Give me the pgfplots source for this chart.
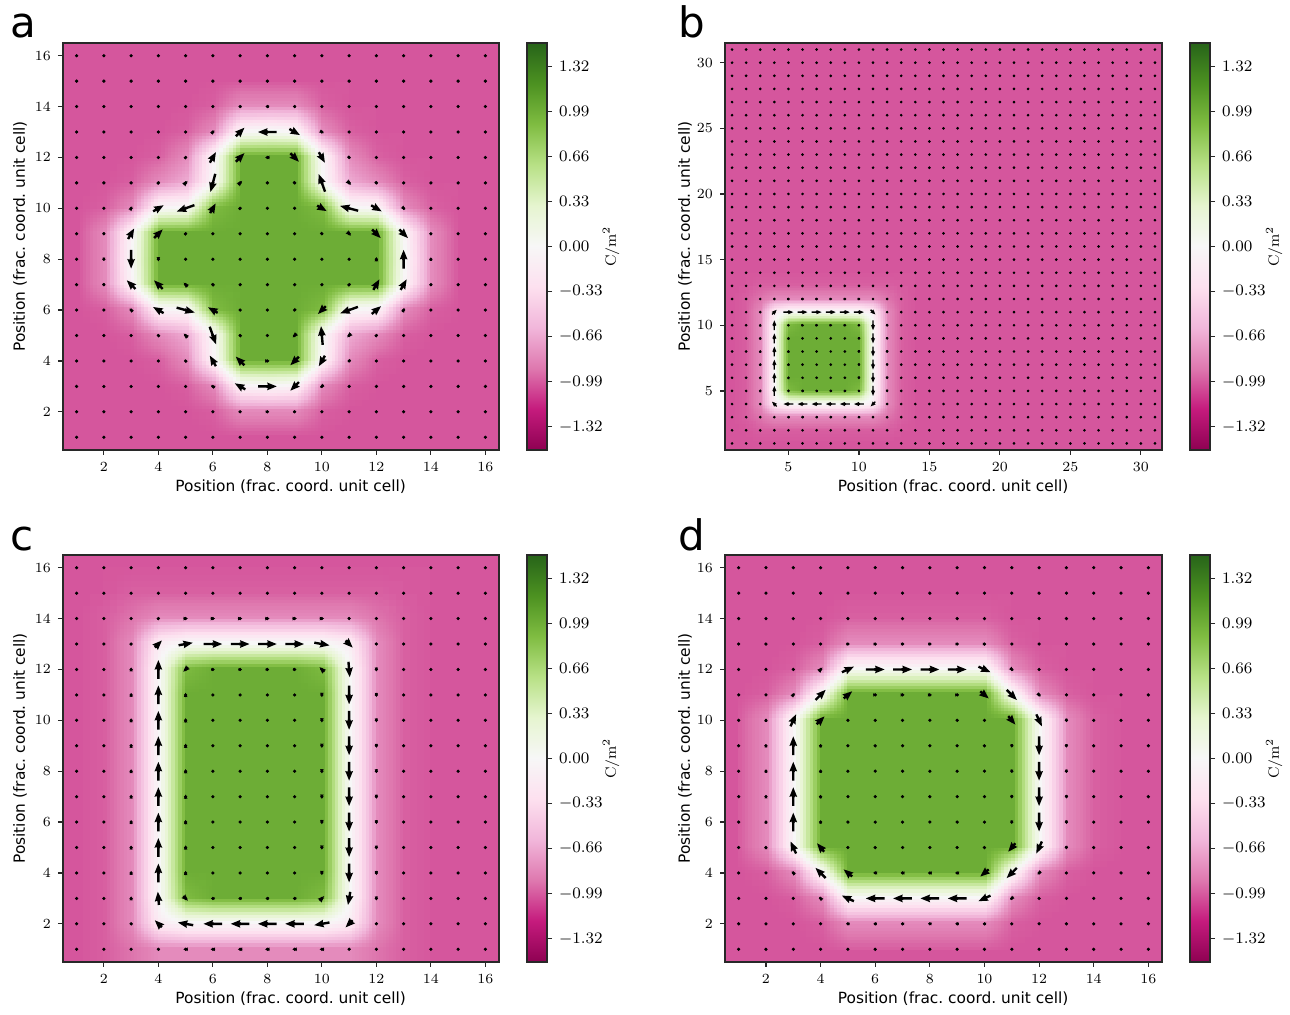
\documentclass[border=0pt]{standalone}
\usepackage{pgfplots}
\usepackage{pgfplotstable}
\pgfplotsset{compat=1.18}
\usepgfplotslibrary{patchplots}
\usepackage{fontspec}
\newfontfamily\djv{DejaVu Sans}
\definecolor{bgpink}{RGB}{213,86,157}
\definecolor{frm}{RGB}{40,40,40}
\pgfplotsset{colormap={piyg}{rgb255=(142,1,82) rgb255=(197,27,125) rgb255=(222,119,174) rgb255=(241,182,218) rgb255=(253,224,239) rgb255=(247,247,247) rgb255=(230,245,208) rgb255=(184,225,134) rgb255=(127,188,65) rgb255=(77,146,33) rgb255=(39,100,25)}}
\newcommand\qarrow[1]{%
  \pgftransformrotate{\qang}%
  \pgfmathsetmacro\qL{1.1*\qlen}%
  \pgfmathsetmacro\qH{3.2*#1}%
  \pgfmathsetmacro\qs{min(1,\qL/\qH)}%
  \pgfmathsetmacro\qLe{max(\qL,\qH)}%
  \pgfmathsetmacro\qa{-0.5*\qLe}%
  \pgfmathsetmacro\qb{0.5*\qLe-2.9*#1}%
  \pgfmathsetmacro\qc{0.5*\qLe-3.2*#1}%
  \pgfmathsetmacro\qd{0.5*\qLe}%
  \pgfmathsetmacro\qe{0.4*#1}%
  \pgfmathsetmacro\qf{1.3*#1}%
  \pgftransformscale{\qs}%
  \pgfpathmoveto{\pgfqpoint{\qa pt}{-\qe pt}}%
  \pgfpathlineto{\pgfqpoint{\qb pt}{-\qe pt}}%
  \pgfpathlineto{\pgfqpoint{\qc pt}{-\qf pt}}%
  \pgfpathlineto{\pgfqpoint{\qd pt}{0pt}}%
  \pgfpathlineto{\pgfqpoint{\qc pt}{\qf pt}}%
  \pgfpathlineto{\pgfqpoint{\qb pt}{\qe pt}}%
  \pgfpathlineto{\pgfqpoint{\qa pt}{\qe pt}}%
  \pgfpathclose
  \pgfusepath{fill}}
\pgfdeclareplotmark{qarr}{\qarrow{1.5}}
\pgfdeclareplotmark{qarrb}{\qarrow{0.8}}
\pgfplotsset{
  panel/.style={anchor=south west, scale only axis, height=203.5pt, ymin=0.5,
    tick align=outside, xtick pos=left, ytick pos=left, major tick length=2.5pt,
    axis line style={frm, line width=0.7pt}, every tick/.style={frm, line width=0.6pt},
    tick label style={font=\fontsize{7.5}{9}\selectfont},
    label style={font=\djv\fontsize{7.7}{9}\selectfont},
    xlabel={Position (frac.\ coord.\ unit cell)},
    ylabel={Position (frac.\ coord.\ unit cell)},
    xlabel style={at={(axis description cs:0.522,-0.0909)}, anchor=center},
    axis background/.style={fill=bgpink}, axis on top,
    point meta min=-149, point meta max=149, colormap name=piyg},
  sq/.style={panel, width=218pt, xmin=0.5, xmax=16.5, ymax=16.5,
    xtick={2,4,...,16}, ytick={2,4,...,16}},
  cbar/.style={anchor=south west, scale only axis, width=10pt, height=203.5pt,
    xmin=0, xmax=1, ymin=-1.49, ymax=1.49, xtick=\empty,
    ytick={-1.32,-0.99,-0.66,-0.33,0,0.33,0.66,0.99,1.32},
    yticklabels={$-1.32$,$-0.99$,$-0.66$,$-0.33$,$0.00$,$0.33$,$0.66$,$0.99$,$1.32$},
    ytick pos=right, yticklabel pos=right, tick align=outside, major tick length=2.5pt,
    axis line style={frm, line width=0.7pt}, every tick/.style={frm, line width=0.6pt},
    tick label style={font=\fontsize{8}{9}\selectfont},
    ylabel={$\mathrm{C/m^2}$},
    ylabel style={at={(axis description cs:4.2,0.5)}, anchor=center, font=\fontsize{7.5}{9}\selectfont},
    point meta min=-149, point meta max=149, colormap name=piyg, axis on top},
  heat/.style={surf, shader=interp, patch type=bilinear, point meta=explicit, mesh/cols=16},
  quiv/.style={only marks, scatter, mark=#1, black, point meta=explicit,
    visualization depends on={value \thisrow{a} \as \qang},
    visualization depends on={value \thisrow{l} \as \qlen},
    scatter/@pre marker code/.code={\pgfscope},
    scatter/@post marker code/.code={\endpgfscope}},
  gdots/.style={only marks, mark=*, mark size=#1, mark options={draw=none, fill=black}},
}
\pgfplotstableread{
x y a c d b
1 1 -100 -100 -100 -100
2 1 -100 -97 -100 -100
3 1 -100 -90 -100 -100
4 1 -100 -80 -100 -100
5 1 -100 -80 -97 -100
6 1 -100 -80 -97 -100
7 1 -100 -80 -97 -100
8 1 -100 -80 -97 -100
9 1 -100 -80 -97 -100
10 1 -100 -80 -97 -100
11 1 -100 -80 -100 -100
12 1 -100 -90 -100 -100
13 1 -100 -97 -100 -100
14 1 -100 -100 -100 -100
15 1 -100 -100 -100 -100
16 1 -100 -100 -100 -100
1 2 -100 -100 -100 -100
2 2 -100 -97 -100 -99
3 2 -100 -80 -100 -97
4 2 -100 -15 -97 -97
5 2 -100 0 -80 -97
6 2 -97 0 -80 -97
7 2 -80 0 -80 -97
8 2 -80 0 -80 -97
9 2 -80 0 -80 -97
10 2 -97 0 -80 -97
11 2 -100 -15 -97 -97
12 2 -100 -80 -100 -97
13 2 -100 -97 -100 -99
14 2 -100 -100 -100 -100
15 2 -100 -100 -100 -100
16 2 -100 -100 -100 -100
1 3 -100 -100 -100 -100
2 3 -100 -97 -100 -97
3 3 -100 -80 -97 -90
4 3 -100 0 -80 -80
5 3 -97 90 0 -80
6 3 -80 100 0 -80
7 3 -5 100 0 -80
8 3 0 100 0 -80
9 3 -5 100 0 -80
10 3 -80 90 0 -80
11 3 -97 0 -80 -80
12 3 -100 -80 -97 -90
13 3 -100 -97 -100 -97
14 3 -100 -100 -100 -100
15 3 -100 -100 -100 -100
16 3 -100 -100 -100 -100
1 4 -100 -100 -100 -100
2 4 -100 -97 -97 -97
3 4 -100 -80 -80 -80
4 4 -97 0 0 -15
5 4 -80 100 100 0
6 4 -5 100 100 0
7 4 100 100 100 0
8 4 100 100 100 0
9 4 100 100 100 0
10 4 -5 100 100 0
11 4 -80 0 0 -15
12 4 -97 -80 -80 -80
13 4 -100 -97 -97 -97
14 4 -100 -100 -100 -100
15 4 -100 -100 -100 -100
16 4 -100 -100 -100 -100
1 5 -100 -100 -97 -100
2 5 -100 -97 -80 -97
3 5 -97 -80 0 -80
4 5 -80 0 100 0
5 5 -65 100 100 90
6 5 0 100 100 100
7 5 100 100 100 100
8 5 100 100 100 100
9 5 100 100 100 100
10 5 0 100 100 90
11 5 -65 0 100 0
12 5 -80 -80 0 -80
13 5 -97 -97 -80 -97
14 5 -100 -100 -97 -100
15 5 -100 -100 -100 -100
16 5 -100 -100 -100 -100
1 6 -100 -100 -97 -100
2 6 -97 -97 -80 -97
3 6 -80 -80 0 -80
4 6 -5 0 100 0
5 6 0 100 100 100
6 6 90 100 100 100
7 6 100 100 100 100
8 6 100 100 100 100
9 6 100 100 100 100
10 6 90 100 100 100
11 6 0 0 100 0
12 6 -5 -80 0 -80
13 6 -80 -97 -80 -97
14 6 -97 -100 -97 -100
15 6 -100 -100 -100 -100
16 6 -100 -100 -100 -100
1 7 -100 -100 -97 -100
2 7 -80 -97 -80 -97
3 7 -5 -80 0 -80
4 7 100 0 100 0
5 7 100 100 100 100
6 7 100 100 100 100
7 7 100 100 100 100
8 7 100 100 100 100
9 7 100 100 100 100
10 7 100 100 100 100
11 7 100 0 100 0
12 7 100 -80 0 -80
13 7 -5 -97 -80 -97
14 7 -80 -100 -97 -100
15 7 -100 -100 -100 -100
16 7 -100 -100 -100 -100
1 8 -100 -100 -97 -100
2 8 -80 -97 -80 -97
3 8 0 -80 0 -80
4 8 100 0 100 0
5 8 100 100 100 100
6 8 100 100 100 100
7 8 100 100 100 100
8 8 100 100 100 100
9 8 100 100 100 100
10 8 100 100 100 100
11 8 100 0 100 0
12 8 100 -80 0 -80
13 8 0 -97 -80 -97
14 8 -80 -100 -97 -100
15 8 -100 -100 -100 -100
16 8 -100 -100 -100 -100
1 9 -100 -100 -97 -100
2 9 -80 -97 -80 -97
3 9 -5 -80 0 -80
4 9 100 0 100 0
5 9 100 100 100 100
6 9 100 100 100 100
7 9 100 100 100 100
8 9 100 100 100 100
9 9 100 100 100 100
10 9 100 100 100 100
11 9 100 0 100 0
12 9 100 -80 0 -80
13 9 -5 -97 -80 -97
14 9 -80 -100 -97 -100
15 9 -100 -100 -100 -100
16 9 -100 -100 -100 -100
1 10 -100 -100 -97 -100
2 10 -97 -97 -80 -97
3 10 -80 -80 0 -80
4 10 -5 0 100 0
5 10 0 100 100 90
6 10 90 100 100 100
7 10 100 100 100 100
8 10 100 100 100 100
9 10 100 100 100 100
10 10 90 100 100 90
11 10 0 0 100 0
12 10 -5 -80 0 -80
13 10 -80 -97 -80 -97
14 10 -97 -100 -97 -100
15 10 -100 -100 -100 -100
16 10 -100 -100 -100 -100
1 11 -100 -100 -100 -100
2 11 -100 -97 -97 -97
3 11 -97 -80 -80 -80
4 11 -80 0 0 -15
5 11 -65 100 100 0
6 11 0 100 100 0
7 11 100 100 100 0
8 11 100 100 100 0
9 11 100 100 100 0
10 11 0 100 100 0
11 11 -65 0 0 -15
12 11 -80 -80 -80 -80
13 11 -97 -97 -97 -97
14 11 -100 -100 -100 -100
15 11 -100 -100 -100 -100
16 11 -100 -100 -100 -100
1 12 -100 -100 -100 -100
2 12 -100 -97 -100 -97
3 12 -100 -80 -97 -90
4 12 -97 0 -80 -80
5 12 -80 90 0 -80
6 12 -5 100 0 -80
7 12 100 100 0 -80
8 12 100 100 0 -80
9 12 100 100 0 -80
10 12 -5 90 0 -80
11 12 -80 0 -80 -80
12 12 -97 -80 -97 -90
13 12 -100 -97 -100 -97
14 12 -100 -100 -100 -100
15 12 -100 -100 -100 -100
16 12 -100 -100 -100 -100
1 13 -100 -100 -100 -100
2 13 -100 -97 -100 -99
3 13 -100 -80 -100 -97
4 13 -100 -15 -97 -97
5 13 -97 0 -80 -97
6 13 -80 0 -80 -97
7 13 -5 0 -80 -97
8 13 0 0 -80 -97
9 13 -5 0 -80 -97
10 13 -80 0 -80 -97
11 13 -97 -15 -97 -97
12 13 -100 -80 -100 -97
13 13 -100 -97 -100 -99
14 13 -100 -100 -100 -100
15 13 -100 -100 -100 -100
16 13 -100 -100 -100 -100
1 14 -100 -100 -100 -100
2 14 -100 -97 -100 -100
3 14 -100 -90 -100 -100
4 14 -100 -80 -100 -100
5 14 -100 -80 -97 -100
6 14 -97 -80 -97 -100
7 14 -80 -80 -97 -100
8 14 -80 -80 -97 -100
9 14 -80 -80 -97 -100
10 14 -97 -80 -97 -100
11 14 -100 -80 -100 -100
12 14 -100 -90 -100 -100
13 14 -100 -97 -100 -100
14 14 -100 -100 -100 -100
15 14 -100 -100 -100 -100
16 14 -100 -100 -100 -100
1 15 -100 -100 -100 -100
2 15 -100 -99 -100 -100
3 15 -100 -97 -100 -100
4 15 -100 -97 -100 -100
5 15 -100 -97 -100 -100
6 15 -100 -97 -100 -100
7 15 -100 -97 -100 -100
8 15 -100 -97 -100 -100
9 15 -100 -97 -100 -100
10 15 -100 -97 -100 -100
11 15 -100 -97 -100 -100
12 15 -100 -97 -100 -100
13 15 -100 -99 -100 -100
14 15 -100 -100 -100 -100
15 15 -100 -100 -100 -100
16 15 -100 -100 -100 -100
1 16 -100 -100 -100 -100
2 16 -100 -100 -100 -100
3 16 -100 -100 -100 -100
4 16 -100 -100 -100 -100
5 16 -100 -100 -100 -100
6 16 -100 -100 -100 -100
7 16 -100 -100 -100 -100
8 16 -100 -100 -100 -100
9 16 -100 -100 -100 -100
10 16 -100 -100 -100 -100
11 16 -100 -100 -100 -100
12 16 -100 -100 -100 -100
13 16 -100 -100 -100 -100
14 16 -100 -100 -100 -100
15 16 -100 -100 -100 -100
16 16 -100 -100 -100 -100
}\G
\pgfplotstableread{
x y c
1 0.5 -100
2 0.5 -97
3 0.5 -90
4 0.5 -80
5 0.5 -80
6 0.5 -80
7 0.5 -80
8 0.5 -80
9 0.5 -80
10 0.5 -80
11 0.5 -80
12 0.5 -90
13 0.5 -97
14 0.5 -100
15 0.5 -100
16 0.5 -100
1 1 -100
2 1 -97
3 1 -90
4 1 -80
5 1 -80
6 1 -80
7 1 -80
8 1 -80
9 1 -80
10 1 -80
11 1 -80
12 1 -90
13 1 -97
14 1 -100
15 1 -100
16 1 -100
}\CS
\pgfplotstableread{
x y c
0 -1.49 -149
1 -1.49 -149
0 -1.192 -119.2
1 -1.192 -119.2
0 -0.894 -89.4
1 -0.894 -89.4
0 -0.596 -59.6
1 -0.596 -59.6
0 -0.298 -29.8
1 -0.298 -29.8
0 0 0
1 0 0
0 0.298 29.8
1 0.298 29.8
0 0.596 59.6
1 0.596 59.6
0 0.894 89.4
1 0.894 89.4
0 1.192 119.2
1 1.192 119.2
0 1.49 149
1 1.49 149
}\CB
\pgfplotstableread[row sep=\\]{
x y\\
17 1\\18 1\\19 1\\20 1\\21 1\\22 1\\23 1\\24 1\\25 1\\26 1\\27 1\\28 1\\29 1\\30 1\\31 1\\
17 2\\18 2\\19 2\\20 2\\21 2\\22 2\\23 2\\24 2\\25 2\\26 2\\27 2\\28 2\\29 2\\30 2\\31 2\\
17 3\\18 3\\19 3\\20 3\\21 3\\22 3\\23 3\\24 3\\25 3\\26 3\\27 3\\28 3\\29 3\\30 3\\31 3\\
17 4\\18 4\\19 4\\20 4\\21 4\\22 4\\23 4\\24 4\\25 4\\26 4\\27 4\\28 4\\29 4\\30 4\\31 4\\
17 5\\18 5\\19 5\\20 5\\21 5\\22 5\\23 5\\24 5\\25 5\\26 5\\27 5\\28 5\\29 5\\30 5\\31 5\\
17 6\\18 6\\19 6\\20 6\\21 6\\22 6\\23 6\\24 6\\25 6\\26 6\\27 6\\28 6\\29 6\\30 6\\31 6\\
17 7\\18 7\\19 7\\20 7\\21 7\\22 7\\23 7\\24 7\\25 7\\26 7\\27 7\\28 7\\29 7\\30 7\\31 7\\
17 8\\18 8\\19 8\\20 8\\21 8\\22 8\\23 8\\24 8\\25 8\\26 8\\27 8\\28 8\\29 8\\30 8\\31 8\\
17 9\\18 9\\19 9\\20 9\\21 9\\22 9\\23 9\\24 9\\25 9\\26 9\\27 9\\28 9\\29 9\\30 9\\31 9\\
17 10\\18 10\\19 10\\20 10\\21 10\\22 10\\23 10\\24 10\\25 10\\26 10\\27 10\\28 10\\29 10\\30 10\\31 10\\
17 11\\18 11\\19 11\\20 11\\21 11\\22 11\\23 11\\24 11\\25 11\\26 11\\27 11\\28 11\\29 11\\30 11\\31 11\\
17 12\\18 12\\19 12\\20 12\\21 12\\22 12\\23 12\\24 12\\25 12\\26 12\\27 12\\28 12\\29 12\\30 12\\31 12\\
17 13\\18 13\\19 13\\20 13\\21 13\\22 13\\23 13\\24 13\\25 13\\26 13\\27 13\\28 13\\29 13\\30 13\\31 13\\
17 14\\18 14\\19 14\\20 14\\21 14\\22 14\\23 14\\24 14\\25 14\\26 14\\27 14\\28 14\\29 14\\30 14\\31 14\\
17 15\\18 15\\19 15\\20 15\\21 15\\22 15\\23 15\\24 15\\25 15\\26 15\\27 15\\28 15\\29 15\\30 15\\31 15\\
17 16\\18 16\\19 16\\20 16\\21 16\\22 16\\23 16\\24 16\\25 16\\26 16\\27 16\\28 16\\29 16\\30 16\\31 16\\
1 17\\2 17\\3 17\\4 17\\5 17\\6 17\\7 17\\8 17\\9 17\\10 17\\11 17\\12 17\\13 17\\14 17\\15 17\\16 17\\17 17\\18 17\\19 17\\20 17\\21 17\\22 17\\23 17\\24 17\\25 17\\26 17\\27 17\\28 17\\29 17\\30 17\\31 17\\
1 18\\2 18\\3 18\\4 18\\5 18\\6 18\\7 18\\8 18\\9 18\\10 18\\11 18\\12 18\\13 18\\14 18\\15 18\\16 18\\17 18\\18 18\\19 18\\20 18\\21 18\\22 18\\23 18\\24 18\\25 18\\26 18\\27 18\\28 18\\29 18\\30 18\\31 18\\
1 19\\2 19\\3 19\\4 19\\5 19\\6 19\\7 19\\8 19\\9 19\\10 19\\11 19\\12 19\\13 19\\14 19\\15 19\\16 19\\17 19\\18 19\\19 19\\20 19\\21 19\\22 19\\23 19\\24 19\\25 19\\26 19\\27 19\\28 19\\29 19\\30 19\\31 19\\
1 20\\2 20\\3 20\\4 20\\5 20\\6 20\\7 20\\8 20\\9 20\\10 20\\11 20\\12 20\\13 20\\14 20\\15 20\\16 20\\17 20\\18 20\\19 20\\20 20\\21 20\\22 20\\23 20\\24 20\\25 20\\26 20\\27 20\\28 20\\29 20\\30 20\\31 20\\
1 21\\2 21\\3 21\\4 21\\5 21\\6 21\\7 21\\8 21\\9 21\\10 21\\11 21\\12 21\\13 21\\14 21\\15 21\\16 21\\17 21\\18 21\\19 21\\20 21\\21 21\\22 21\\23 21\\24 21\\25 21\\26 21\\27 21\\28 21\\29 21\\30 21\\31 21\\
1 22\\2 22\\3 22\\4 22\\5 22\\6 22\\7 22\\8 22\\9 22\\10 22\\11 22\\12 22\\13 22\\14 22\\15 22\\16 22\\17 22\\18 22\\19 22\\20 22\\21 22\\22 22\\23 22\\24 22\\25 22\\26 22\\27 22\\28 22\\29 22\\30 22\\31 22\\
1 23\\2 23\\3 23\\4 23\\5 23\\6 23\\7 23\\8 23\\9 23\\10 23\\11 23\\12 23\\13 23\\14 23\\15 23\\16 23\\17 23\\18 23\\19 23\\20 23\\21 23\\22 23\\23 23\\24 23\\25 23\\26 23\\27 23\\28 23\\29 23\\30 23\\31 23\\
1 24\\2 24\\3 24\\4 24\\5 24\\6 24\\7 24\\8 24\\9 24\\10 24\\11 24\\12 24\\13 24\\14 24\\15 24\\16 24\\17 24\\18 24\\19 24\\20 24\\21 24\\22 24\\23 24\\24 24\\25 24\\26 24\\27 24\\28 24\\29 24\\30 24\\31 24\\
1 25\\2 25\\3 25\\4 25\\5 25\\6 25\\7 25\\8 25\\9 25\\10 25\\11 25\\12 25\\13 25\\14 25\\15 25\\16 25\\17 25\\18 25\\19 25\\20 25\\21 25\\22 25\\23 25\\24 25\\25 25\\26 25\\27 25\\28 25\\29 25\\30 25\\31 25\\
1 26\\2 26\\3 26\\4 26\\5 26\\6 26\\7 26\\8 26\\9 26\\10 26\\11 26\\12 26\\13 26\\14 26\\15 26\\16 26\\17 26\\18 26\\19 26\\20 26\\21 26\\22 26\\23 26\\24 26\\25 26\\26 26\\27 26\\28 26\\29 26\\30 26\\31 26\\
1 27\\2 27\\3 27\\4 27\\5 27\\6 27\\7 27\\8 27\\9 27\\10 27\\11 27\\12 27\\13 27\\14 27\\15 27\\16 27\\17 27\\18 27\\19 27\\20 27\\21 27\\22 27\\23 27\\24 27\\25 27\\26 27\\27 27\\28 27\\29 27\\30 27\\31 27\\
1 28\\2 28\\3 28\\4 28\\5 28\\6 28\\7 28\\8 28\\9 28\\10 28\\11 28\\12 28\\13 28\\14 28\\15 28\\16 28\\17 28\\18 28\\19 28\\20 28\\21 28\\22 28\\23 28\\24 28\\25 28\\26 28\\27 28\\28 28\\29 28\\30 28\\31 28\\
1 29\\2 29\\3 29\\4 29\\5 29\\6 29\\7 29\\8 29\\9 29\\10 29\\11 29\\12 29\\13 29\\14 29\\15 29\\16 29\\17 29\\18 29\\19 29\\20 29\\21 29\\22 29\\23 29\\24 29\\25 29\\26 29\\27 29\\28 29\\29 29\\30 29\\31 29\\
1 30\\2 30\\3 30\\4 30\\5 30\\6 30\\7 30\\8 30\\9 30\\10 30\\11 30\\12 30\\13 30\\14 30\\15 30\\16 30\\17 30\\18 30\\19 30\\20 30\\21 30\\22 30\\23 30\\24 30\\25 30\\26 30\\27 30\\28 30\\29 30\\30 30\\31 30\\
1 31\\2 31\\3 31\\4 31\\5 31\\6 31\\7 31\\8 31\\9 31\\10 31\\11 31\\12 31\\13 31\\14 31\\15 31\\16 31\\17 31\\18 31\\19 31\\20 31\\21 31\\22 31\\23 31\\24 31\\25 31\\26 31\\27 31\\28 31\\29 31\\30 31\\31 31\\
}\BD
\begin{document}
\begin{tikzpicture}
\path[use as bounding box] (0,0) rectangle (645pt,507.5pt);
% panel a
\begin{axis}[sq, at={(31.5pt,282.5pt)}, ylabel style={at={(axis description cs:-0.0986,0.525)}, anchor=center}]
\addplot[heat] table[x=x,y=y,meta=a] {\G};
\addplot[gdots=0.6pt] table[x=x,y=y] {\G};
\addplot[quiv=qarr] table[x=x,y=y,meta=l] {
x y a l
6 13 45 2
7 13 45 5.5
8 13 180 8.5
9 13 -30 5.5
10 13 -30 2
5 12 45 1.5
6 12 60 5.5
7 12 45 5.5
8 12 180 2
9 12 -45 5.5
10 12 -60 5.5
11 12 -45 1.5
5 11 45 2.5
6 11 -105 8.5
7 11 45 2.5
9 11 -45 1.5
10 11 110 8.5
6 10 60 5
7 10 45 1.5
9 10 -45 1
7 14 180 1.2
8 14 180 1.5
9 14 180 1.2
3 6 135 2
3 7 135 5.5
3 8 270 8.5
3 9 60 5.5
3 10 60 2
4 5 135 1.5
4 6 150 5.5
4 7 135 5.5
4 8 270 2
4 9 45 5.5
4 10 30 5.5
4 11 45 1.5
5 5 135 2.5
5 6 -15 8.5
5 7 135 2.5
5 9 45 1.5
5 10 200 8.5
6 6 150 5
6 7 135 1.5
6 9 45 1
2 7 270 1.2
2 8 270 1.5
2 9 270 1.2
10 3 225 2
9 3 225 5.5
8 3 0 8.5
7 3 150 5.5
6 3 150 2
11 4 225 1.5
10 4 240 5.5
9 4 225 5.5
8 4 0 2
7 4 135 5.5
6 4 120 5.5
5 4 135 1.5
11 5 225 2.5
10 5 95 8.5
9 5 225 2.5
7 5 135 1.5
6 5 290 8.5
10 6 225 5
9 6 225 1.5
7 6 135 1
9 2 0 1.2
8 2 0 1.5
7 2 0 1.2
13 10 -45 2
13 9 -45 5.5
13 8 90 8.5
13 7 60 5.5
13 6 60 2
12 11 -45 1.5
12 10 -30 5.5
12 9 -45 5.5
12 8 90 2
12 7 60 5.5
12 6 40 5.5
12 5 45 1.5
11 11 -45 2.5
11 10 165 8.5
11 9 -45 2.5
11 7 45 1.5
11 6 200 8.5
10 10 -30 5
10 9 -45 1.5
10 7 45 1
14 9 90 1.2
14 8 90 1.5
14 7 90 1.2
};
\end{axis}
\begin{axis}[cbar, at={(263.5pt,282.5pt)}]
\addplot[surf, shader=interp, point meta=explicit, mesh/cols=2] table[x=x,y=y,meta=c] {\CB};
\end{axis}
% panel b
\begin{axis}[panel, at={(362.5pt,282.5pt)}, width=218.5pt, xmin=0.5, xmax=31.5, ymax=31.5,
  xtick={5,10,...,30}, ytick={5,10,...,30},
  ylabel style={at={(axis description cs:-0.0915,0.525)}, anchor=center}]
\addplot[heat] table[x=x,y=y,meta=b] {\G};
\addplot[gdots=0.45pt] table[x=x,y=y] {\G};
\addplot[gdots=0.45pt] table[x=x,y=y] {\BD};
\addplot[quiv=qarrb] table[x=x,y=y,meta=l] {
x y a l
4 5 90 4.5
4 6 90 4.5
4 7 90 4.5
4 8 90 4.5
4 9 90 4.5
4 10 90 4.5
4 11 45 3
5 11 0 4.5
6 11 0 4.5
7 11 0 4.5
8 11 0 4.5
9 11 0 4.5
10 11 0 4.5
11 11 -45 3
11 5 -90 4.5
11 6 -90 4.5
11 7 -90 4.5
11 8 -90 4.5
11 9 -90 4.5
11 10 -90 4.5
11 4 225 3
5 4 180 4.5
6 4 180 4.5
7 4 180 4.5
8 4 180 4.5
9 4 180 4.5
10 4 180 4.5
4 4 135 3
5 6 90 1.2
5 7 90 1.2
5 8 90 1.2
5 9 90 1.2
10 6 -90 1.2
10 7 -90 1.2
10 8 -90 1.2
10 9 -90 1.2
6 10 0 1.2
7 10 0 1.2
8 10 0 1.2
9 10 0 1.2
6 5 180 1.2
7 5 180 1.2
8 5 180 1.2
9 5 180 1.2
3 5 90 1.2
3 6 90 1.2
3 7 90 1.2
3 8 90 1.2
3 9 90 1.2
3 10 90 1.2
12 5 -90 1.2
12 6 -90 1.2
12 7 -90 1.2
12 8 -90 1.2
12 9 -90 1.2
12 10 -90 1.2
5 12 0 1.2
6 12 0 1.2
7 12 0 1.2
8 12 0 1.2
9 12 0 1.2
10 12 0 1.2
5 3 180 1.2
6 3 180 1.2
7 3 180 1.2
8 3 180 1.2
9 3 180 1.2
10 3 180 1.2
};
\end{axis}
\begin{axis}[cbar, at={(595pt,282.5pt)}]
\addplot[surf, shader=interp, point meta=explicit, mesh/cols=2] table[x=x,y=y,meta=c] {\CB};
\end{axis}
% panel c
\begin{axis}[sq, at={(31.5pt,26.5pt)}, ylabel style={at={(axis description cs:-0.0986,0.525)}, anchor=center}]
\addplot[heat] table[x=x,y=y,meta=c] {\G};
\addplot[heat] table[x=x,y=y,meta=c] {\CS};
\addplot[gdots=0.6pt] table[x=x,y=y] {\G};
\addplot[quiv=qarr] table[x=x,y=y,meta=l] {
x y a l
4 2 135 4.5
4 3 95 6
4 4 90 8.5
4 5 90 8.5
4 6 90 8.5
4 7 90 8.5
4 8 90 8.5
4 9 90 8.5
4 10 90 8.5
4 11 90 8.5
4 12 90 8.5
4 13 45 4.5
5 13 10 6.5
6 13 0 8.5
7 13 0 8.5
8 13 0 8.5
9 13 0 8.5
10 13 -10 7
11 13 -45 4.5
11 12 -85 7
11 11 -90 8.5
11 10 -90 8.5
11 9 -90 8.5
11 8 -90 8.5
11 7 -90 8.5
11 6 -90 8.5
11 5 -90 8.5
11 4 -90 8.5
11 3 -100 6
11 2 225 4.5
10 2 190 7
9 2 180 8.5
8 2 180 8.5
7 2 180 8.5
6 2 180 8.5
5 2 170 7
5 12 225 3
10 12 135 3
5 3 -45 3
10 3 45 3
5 4 90 2
5 5 90 2
5 6 90 2
5 7 90 2
5 8 90 2
5 9 90 2
5 10 90 2
5 11 90 2
10 4 -90 2
10 5 -90 2
10 6 -90 2
10 7 -90 2
10 8 -90 2
10 9 -90 2
10 10 -90 2
10 11 -90 2
6 12 0 1.5
7 12 0 1.5
8 12 0 1.5
9 12 0 1.5
6 3 180 1.5
7 3 180 1.5
8 3 180 1.5
9 3 180 1.5
3 3 90 1.8
3 4 90 1.8
3 5 90 1.8
3 6 90 1.8
3 7 90 1.8
3 8 90 1.8
3 9 90 1.8
3 10 90 1.8
3 11 90 1.8
3 12 90 1.8
3 13 45 1.2
3 2 135 1.2
12 3 -90 1.8
12 4 -90 1.8
12 5 -90 1.8
12 6 -90 1.8
12 7 -90 1.8
12 8 -90 1.8
12 9 -90 1.8
12 10 -90 1.8
12 11 -90 1.8
12 12 -90 1.8
12 13 -45 1.2
12 2 225 1.2
5 14 0 2
6 14 0 2
7 14 0 2
8 14 0 2
9 14 0 2
10 14 0 2
4 14 45 1.2
11 14 -60 1.2
5 1 180 2
6 1 180 2
7 1 180 2
8 1 180 2
9 1 180 2
10 1 180 2
4 1 150 1.2
11 1 210 1.2
};
\end{axis}
\begin{axis}[cbar, at={(263.5pt,26.5pt)}]
\addplot[surf, shader=interp, point meta=explicit, mesh/cols=2] table[x=x,y=y,meta=c] {\CB};
\end{axis}
% panel d
\begin{axis}[sq, at={(362.5pt,26.5pt)}, width=218.5pt, ylabel style={at={(axis description cs:-0.0915,0.525)}, anchor=center}]
\addplot[heat] table[x=x,y=y,meta=d] {\G};
\addplot[gdots=0.6pt] table[x=x,y=y] {\G};
\addplot[quiv=qarr] table[x=x,y=y,meta=l] {
x y a l
5 12 25 6
6 12 0 8.5
7 12 0 8.5
8 12 0 8.5
9 12 0 8.5
10 12 -25 6
3 10 65 6
3 9 90 8.5
3 8 90 8.5
3 7 90 8.5
3 6 90 8.5
3 5 115 6
12 10 -65 6
12 9 -90 8.5
12 8 -90 8.5
12 7 -90 8.5
12 6 -90 8.5
12 5 -115 6
10 3 205 6
9 3 180 8.5
8 3 180 8.5
7 3 180 8.5
6 3 180 8.5
5 3 155 6
4 11 45 6.5
11 11 -45 6.5
11 4 225 6.5
4 4 135 6.5
4 10 45 5
5 11 40 5
10 11 -40 5
11 10 -50 5
11 5 230 5
10 4 220 5
5 4 140 5
4 5 130 5
3 11 45 2
4 12 45 2.5
11 12 -45 2
12 11 -45 2
12 4 225 2
11 3 225 2
4 3 135 2
3 4 135 2
2 5 90 1.5
2 6 90 1.5
2 7 90 1.5
2 8 90 1.5
2 9 90 1.5
2 10 90 1.5
13 5 -90 1.5
13 6 -90 1.5
13 7 -90 1.5
13 8 -90 1.5
13 9 -90 1.5
13 10 -90 1.5
5 13 0 1.5
6 13 0 1.5
7 13 0 1.5
8 13 0 1.5
9 13 0 1.5
10 13 0 1.5
5 2 180 1.5
6 2 180 1.5
7 2 180 1.5
8 2 180 1.5
9 2 180 1.5
10 2 180 1.5
4 6 90 1.5
4 7 90 1.5
4 8 90 1.5
4 9 90 1.5
11 6 -90 1.5
11 7 -90 1.5
11 8 -90 1.5
11 9 -90 1.5
6 11 0 1.8
7 11 0 1.8
8 11 0 1.8
9 11 0 1.8
6 4 180 1.8
7 4 180 1.8
8 4 180 1.8
9 4 180 1.8
};
\end{axis}
\begin{axis}[cbar, at={(595pt,26.5pt)}]
\addplot[surf, shader=interp, point meta=explicit, mesh/cols=2] table[x=x,y=y,meta=c] {\CB};
\end{axis}
\node[anchor=base west, font=\djv\fontsize{21}{25}\selectfont, inner sep=0pt] at (5pt,488.5pt) {a};
\node[anchor=base west, font=\djv\fontsize{21}{25}\selectfont, inner sep=0pt] at (339pt,488.5pt) {b};
\node[anchor=base west, font=\djv\fontsize{21}{25}\selectfont, inner sep=0pt] at (5pt,232pt) {c};
\node[anchor=base west, font=\djv\fontsize{21}{25}\selectfont, inner sep=0pt] at (339pt,232pt) {d};
\end{tikzpicture}
\end{document}
